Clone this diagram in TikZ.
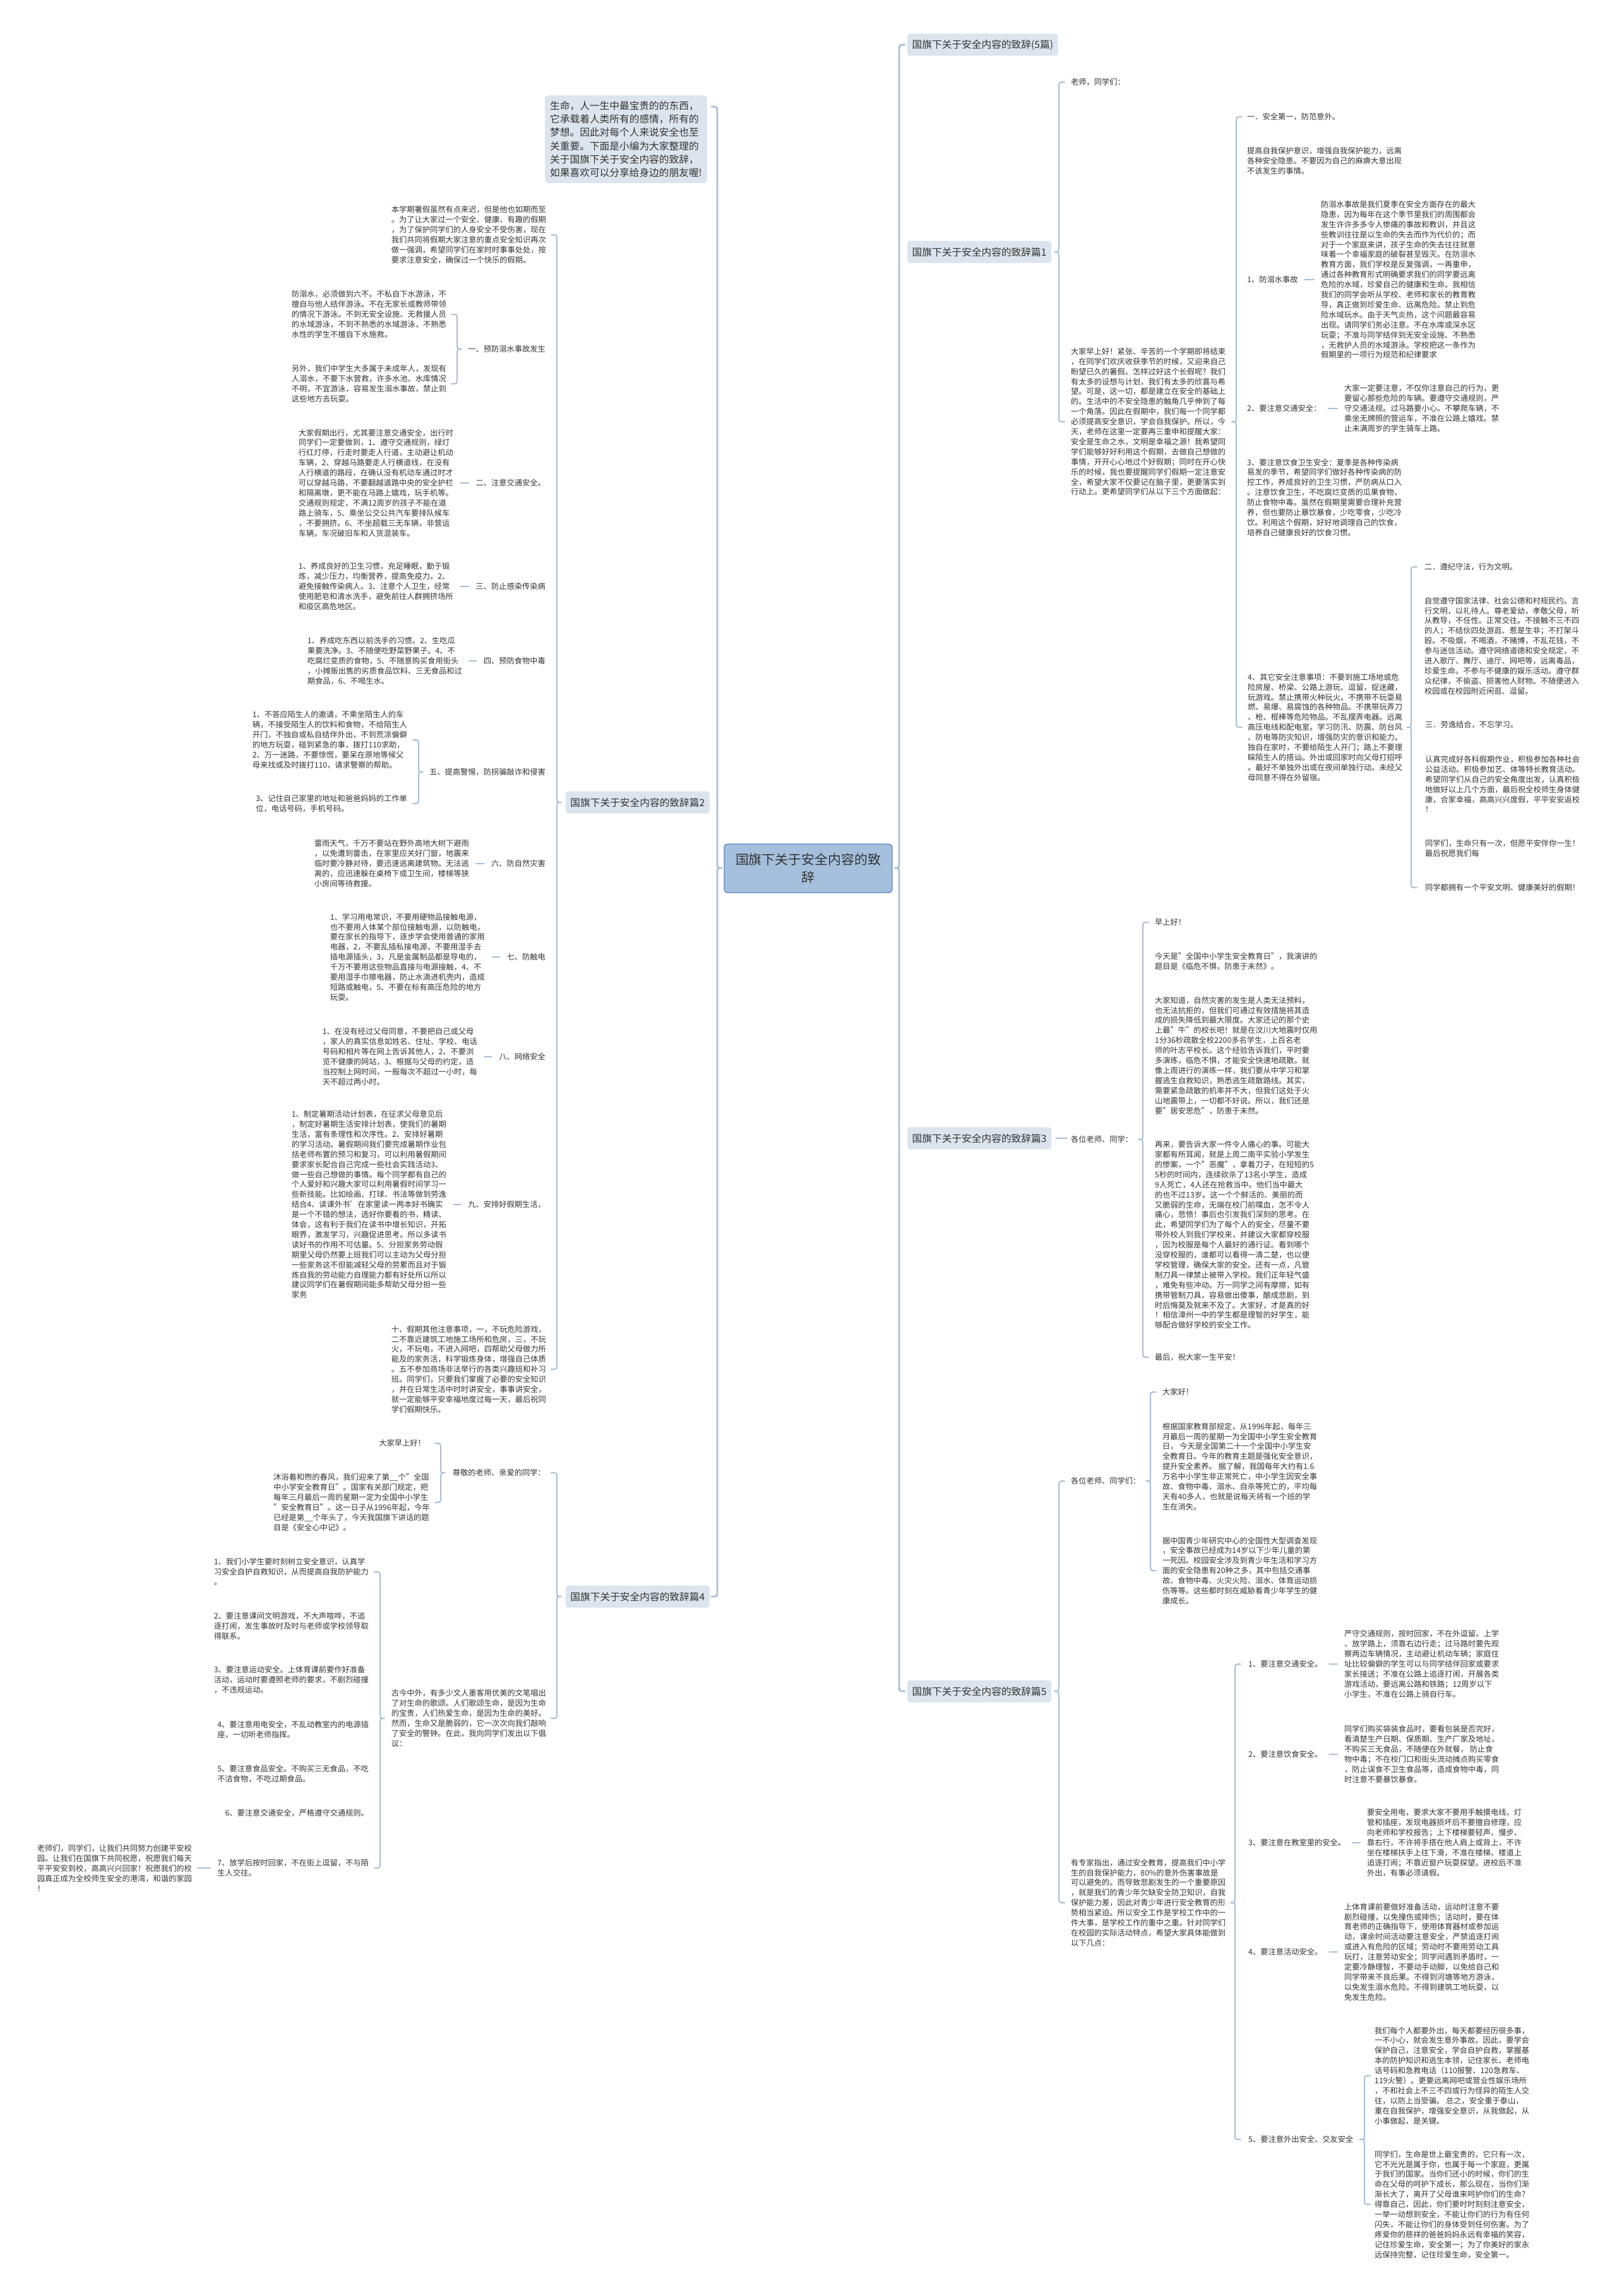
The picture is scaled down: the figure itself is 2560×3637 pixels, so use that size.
\documentclass[tikz,border=0pt]{standalone}
\usepackage{fontspec}
\setmainfont{Noto Sans CJK SC}
\definecolor{mmline}{HTML}{A9BFD6}
\definecolor{boxfill}{HTML}{DCE5ED}
\definecolor{cfill}{HTML}{A5C0DD}
\definecolor{cdraw}{HTML}{5A84BF}
\definecolor{txt}{HTML}{333333}
\tikzset{
  br/.style={draw=mmline, line width=2pt, line cap=round, line join=round},
  brmain/.style={br, line width=2.8pt},
  sc/.style={br, shorten <=11pt, shorten >=11pt},
  tr/.style={anchor=west, align=left, inner sep=0pt, text=txt, font=\fontsize{12.25}{15.9}\selectfont},
  tl/.style={tr, anchor=east},
  lbl/.style={fill=boxfill, rounded corners=4pt, inner xsep=7.5pt, inner ysep=0pt, minimum height=35pt, text=txt, font=\fontsize{15.7}{18}\selectfont},
  central/.style={fill=cfill, draw=cdraw, line width=1.3pt, rounded corners=5pt, align=center, minimum width=266pt, minimum height=77pt, inner sep=0pt, text=txt, font=\fontsize{20.9}{28}\selectfont},
  intro/.style={fill=boxfill, rounded corners=5pt, align=left, inner xsep=8pt, inner ysep=9pt, anchor=north west, text=txt, font=\fontsize{15.7}{21.2}\selectfont}
}
\newcommand{\mmBR}[5][br]{\draw[#1] ({#2+9},#3) .. controls (#2,#3) .. (#2,{#3+9}) -- (#2,{#4-9}) .. controls (#2,#4) .. ({#2-7},#4) .. controls (#2,#4) .. (#2,{#4+9}) -- (#2,{#5-9}) .. controls (#2,#5) .. ({#2+9},#5);}
\newcommand{\mmBL}[5][br]{\draw[#1] ({#2-9},#3) .. controls (#2,#3) .. (#2,{#3+9}) -- (#2,{#4-9}) .. controls (#2,#4) .. ({#2+7},#4) .. controls (#2,#4) .. (#2,{#4+9}) -- (#2,{#5-9}) .. controls (#2,#5) .. ({#2-9},#5);}
\begin{document}
\begin{tikzpicture}[x=1pt,y=-1pt]
\fill[white] (0,0) rectangle (2560,3637);
\path[use as bounding box] (0,0) rectangle (2560,3637);

% ---------------- central ----------------
\node[central] (c) at (1280,1375.5) {国旗下关于安全内容的致\\辞};
\mmBR[brmain]{1424}{71}{1375}{2679}
\mmBL[brmain]{1136}{169}{1375}{2529}

% ---------------- right branches ----------------
\node[lbl, anchor=west] (r0) at (1437,71) {国旗下关于安全内容的致辞(5篇)};
\node[lbl, anchor=west] (r1) at (1437,399) {国旗下关于安全内容的致辞篇1};
\node[lbl, anchor=west] (r3) at (1437,1803) {国旗下关于安全内容的致辞篇3};
\node[lbl, anchor=west] (r5) at (1437,2679) {国旗下关于安全内容的致辞篇5};

% ----- 篇1 -----
\mmBR{1677}{130}{399}{668}
\node[tr] (a1) at (1696,130) {老师，同学们：};
\node[tr] (a2) at (1696,668) {大家早上好！紧张、辛苦的一个学期即将结束\\
，在同学们欢庆收获季节的时候，又迎来自己\\
盼望已久的暑假。怎样过好这个长假呢？我们\\
有太多的设想与计划，我们有太多的欣喜与希\\
望。可是，这一切，都是建立在安全的基础上\\
的。生活中的不安全隐患的触角几乎伸到了每\\
一个角落。因此在假期中，我们每一个同学都\\
必须提高安全意识，学会自我保护。所以，今\\
天，老师在这里一定要再三重申和提醒大家：\\
安全是生命之水，文明是幸福之源！我希望同\\
学们能够好好利用这个假期，去做自己想做的\\
事情，开开心心地过个好假期；同时在开心快\\
乐的时候，我也要提醒同学们假期一定注意安\\
全，希望大家不仅要记在脑子里，更要落实到\\
行动上。更希望同学们从以下三个方面做起：};
\mmBR{1958}{185}{668}{1152}
\node[tr] (b1) at (1975,185) {一．安全第一，防范意外。};
\node[tr] (b2) at (1975,255) {提高自我保护意识，增强自我保护能力，远离\\
各种安全隐患。不要因为自己的麻痹大意出现\\
不该发生的事情。};
\node[tr] (b3) at (1975,443) {1、防溺水事故};
\node[tr] (b3p) at (2092,443) {防溺水事故是我们夏季在安全方面存在的最大\\
隐患，因为每年在这个季节里我们的周围都会\\
发生许许多多令人惨痛的事故和教训，并且这\\
些教训往往是以生命的失去而作为代价的；而\\
对于一个家庭来讲，孩子生命的失去往往就意\\
味着一个幸福家庭的破裂甚至毁灭。在防溺水\\
教育方面，我们学校是反复强调，一再重申，\\
通过各种教育形式明确要求我们的同学要远离\\
危险的水域，珍爱自己的健康和生命。我相信\\
我们的同学会听从学校、老师和家长的教育教\\
导，真正做到珍爱生命、远离危险。禁止到危\\
险水域玩水。由于天气炎热，这个问题最容易\\
出现。请同学们务必注意。不在水库或深水区\\
玩耍；不准与同学结伴到无安全设施、不熟悉\\
，无救护人员的水域游泳。学校把这一条作为\\
假期里的一项行为规范和纪律要求};
\draw[sc] (b3.east) -- (b3.east -| b3p.west);
\node[tr] (b4) at (1975,647) {2、要注意交通安全：};
\node[tr] (b4p) at (2129,647) {大家一定要注意，不仅你注意自己的行为，更\\
要留心那些危险的车辆。要遵守交通规则，严\\
守交通法规。过马路要小心。不攀爬车辆，不\\
乘坐无牌照的营运车，不准在公路上嬉戏。禁\\
止未满周岁的学生骑车上路。};
\draw[sc] (b4.east) -- (b4.east -| b4p.west);
\node[tr] (b5) at (1975,788) {3、要注意饮食卫生安全：夏季是各种传染病\\
易发的季节，希望同学们做好各种传染病的防\\
控工作，养成良好的卫生习惯，严防病从口入\\
。注意饮食卫生，不吃腐烂变质的瓜果食物，\\
防止食物中毒。虽然在假期里需要合理补充营\\
养，但也要防止暴饮暴食，少吃零食，少吃冷\\
饮。利用这个假期，好好地调理自己的饮食，\\
培养自己健康良好的饮食习惯。};
\node[tr] (b6) at (1976,1152) {4、其它安全注意事项：不要到施工场地或危\\
险房屋、桥梁、公路上游玩、逗留，捉迷藏，\\
玩游戏。禁止携带火种玩火。不携带不玩耍易\\
燃、易爆、易腐蚀的各种物品。不携带玩弄刀\\
、枪、棍棒等危险物品。不乱摆弄电器。远离\\
高压电线和配电室。学习防汛、防震、防台风\\
、防电等防灾知识，增强防灾的意识和能力。\\
独自在家时，不要给陌生人开门；路上不要理\\
睬陌生人的搭讪。外出或回家时向父母打招呼\\
。最好不单独外出或在夜间单独行动。未经父\\
母同意不得在外留宿。};
\mmBR{2235}{898}{1152}{1406}
\node[tr] (c1) at (2256,898) {二．遵纪守法，行为文明。};
\node[tr] (c2) at (2256,1023) {自觉遵守国家法律、社会公德和村规民约。言\\
行文明，以礼待人。尊老爱幼，孝敬父母，听\\
从教导，不任性。正常交往。不接触不三不四\\
的人；不结伙四处游逛、惹是生非；不打架斗\\
殴。不吸烟，不喝酒，不赌博，不乱花钱，不\\
参与迷信活动。遵守网络道德和安全规定，不\\
进入歌厅、舞厅、迪厅、网吧等，远离毒品，\\
珍爱生命。不参与不健康的娱乐活动。遵守群\\
众纪律，不偷盗、损害他人财物。不随便进入\\
校园或在校园附近闲逛、逗留。};
\node[tr] (c3) at (2257,1148) {三．劳逸结合，不忘学习。};
\node[tr] (c4) at (2257,1242) {认真完成好各科假期作业，积极参加各种社会\\
公益活动。积极参加艺、体等特长教育活动。\\
希望同学们从自己的安全角度出发，认真积极\\
地做好以上几个方面，最后祝全校师生身体健\\
康，合家幸福，高高兴兴度假，平平安安返校\\
！};
\node[tr] (c5) at (2257,1344) {同学们，生命只有一次，但愿平安伴你一生！\\
最后祝愿我们每};
\node[tr] (c6) at (2257,1406) {同学都拥有一个平安文明、健康美好的假期！};

% ----- 篇3 -----
\node[tr] (d1) at (1696,1805) {各位老师、同学：};
\draw[br, shorten <=7pt, shorten >=6pt] (r3.east) -- (r3.east -| d1.west);
\mmBR{1810}{1461}{1805}{2150}
\node[tr] (e1) at (1829,1461) {早上好！};
\node[tr] (e2) at (1829,1523) {今天是"全国中小学生安全教育日"，我演讲的\\
题目是《临危不惧，防患于未然》。};
\node[tr] (e3) at (1829,1672) {大家知道，自然灾害的发生是人类无法预料，\\
也无法抗拒的，但我们可通过有效措施将其造\\
成的损失降低到最大限度。大家还记的那个史\\
上最"牛"的校长吧！就是在汶川大地震时仅用\\
1分36秒疏散全校2200多名学生，上百名老\\
师的叶志平校长。这个经验告诉我们，平时要\\
多演练，临危不惧，才能安全快速地疏散。就\\
像上周进行的演练一样，我们要从中学习和掌\\
握逃生自救知识，熟悉逃生疏散路线。其实，\\
需要紧急疏散的机率并不大，但我们这处于火\\
山地震带上，一切都不好说。所以，我们还是\\
要"居安思危"，防患于未然。};
\node[tr] (e4) at (1829,1956) {再来，要告诉大家一件令人痛心的事。可能大\\
家都有所耳闻，就是上周二南平实验小学发生\\
的惨案，一个"恶魔"，拿着刀子，在短短的5\\
5秒的时间内，连续砍杀了13名小学生，造成\\
9人死亡，4人还在抢救当中。他们当中最大\\
的也不过13岁。这一个个鲜活的、美丽的而\\
又脆弱的生命，无端在校门前喋血，怎不令人\\
痛心，悲愤！事后也引发我们深刻的思考。在\\
此，希望同学们为了每个人的安全，尽量不要\\
带外校人到我们学校来，并建议大家都穿校服\\
，因为校服是每个人最好的通行证。看到哪个\\
没穿校服的，谁都可以看得一清二楚，也以便\\
学校管理，确保大家的安全。还有一点，凡管\\
制刀具一律禁止被带入学校。我们正年轻气盛\\
，难免有些冲动。万一同学之间有摩擦，如有\\
携带管制刀具，容易做出傻事，酿成悲剧，到\\
时后悔莫及就来不及了。大家好，才是真的好\\
！相信漳州一中的学生都是理智的好学生，能\\
够配合做好学校的安全工作。};
\node[tr] (e5) at (1829,2150) {最后，祝大家一生平安！};

% ----- 篇5 -----
\mmBR{1677}{2346}{2679}{3014}
\node[tr] (f1) at (1696,2346) {各位老师、同学们：};
\mmBR{1822}{2205}{2346}{2488}
\node[tr] (g1) at (1841,2205) {大家好！};
\node[tr] (g2) at (1841,2323) {根据国家教育部规定，从1996年起，每年三\\
月最后一周的星期一为全国中小学生安全教育\\
日， 今天是全国第二十一个全国中小学生安\\
全教育日。今年的教育主题是强化安全意识，\\
提升安全素养。 据了解，我国每年大约有1.6\\
万名中小学生非正常死亡，中小学生因安全事\\
故、食物中毒、溺水、自杀等死亡的，平均每\\
天有40多人，也就是说每天将有一个班的学\\
生在消失。};
\node[tr] (g3) at (1841,2488) {据中国青少年研究中心的全国性大型调查发现\\
，安全事故已经成为14岁以下少年儿童的第\\
一死因。校园安全涉及到青少年生活和学习方\\
面的安全隐患有20种之多，其中包括交通事\\
故、食物中毒、火灾火险、溺水、体育运动损\\
伤等等。这些都时刻在威胁着青少年学生的健\\
康成长。};
\node[tr] (f2) at (1696,3014) {有专家指出，通过安全教育，提高我们中小学\\
生的自我保护能力，80\%的意外伤害事故是\\
可以避免的。而导致悲剧发生的一个重要原因\\
，就是我们的青少年欠缺安全防卫知识，自我\\
保护能力差，因此对青少年进行安全教育的形\\
势相当紧迫。所以安全工作是学校工作中的一\\
件大事，是学校工作的重中之重。针对同学们\\
在校园的实际活动特点，希望大家具体能做到\\
以下几点：};
\mmBR{1956}{2636}{3014}{3389}
\node[tr] (h1) at (1977,2636) {1、要注意交通安全。};
\node[tr] (h1p) at (2129,2636) {严守交通规则，按时回家，不在外逗留。上学\\
、放学路上，须靠右边行走；过马路时要先观\\
察两边车辆情况，主动避让机动车辆；家庭住\\
址比较偏僻的学生可以与同学结伴回家或要求\\
家长接送；不准在公路上追逐打闹，开展各类\\
游戏活动，要远离公路和铁路；12周岁以下\\
小学生，不准在公路上骑自行车。};
\draw[sc] (h1.east) -- (h1.east -| h1p.west);
\node[tr] (h2) at (1977,2779) {2、要注意饮食安全。};
\node[tr] (h2p) at (2129,2779) {同学们购买袋装食品时，要看包装是否完好，\\
看清楚生产日期、保质期、生产厂家及地址，\\
不购买三无食品，不随便在外就餐， 防止食\\
物中毒；不在校门口和街头流动摊点购买零食\\
，防止误食不卫生食品等，造成食物中毒，同\\
时注意不要暴饮暴食。};
\draw[sc] (h2.east) -- (h2.east -| h2p.west);
\node[tr] (h3) at (1977,2919) {3、要注意在教室里的安全。};
\node[tr] (h3p) at (2165,2919) {要安全用电，要求大家不要用手触摸电线、灯\\
管和插座，发现电器损坏后不要擅自修理，应\\
向老师和学校报告；上下楼梯要轻声、慢步、\\
靠右行，不许将手搭在他人肩上或背上，不许\\
坐在楼梯扶手上往下滑，不准在楼梯、楼道上\\
追逐打闹；不靠近窗户玩耍探望。进校后不准\\
外出，有事必须请假。};
\draw[sc] (h3.east) -- (h3.east -| h3p.west);
\node[tr] (h4) at (1977,3092) {4、要注意活动安全。};
\node[tr] (h4p) at (2129,3092) {上体育课前要做好准备活动，运动时注意不要\\
剧烈碰撞，以免撞伤或摔伤；活动时，要在体\\
育老师的正确指导下，使用体育器材或参加运\\
动，课余时间活动要注意安全，严禁追逐打闹\\
或进入有危险的区域；劳动时不要用劳动工具\\
玩打，注意劳动安全；同学间遇到矛盾时，一\\
定要冷静理智，不要动手动脚，以免给自己和\\
同学带来不良后果。不得到河塘等地方游泳，\\
以免发生溺水危险。不得到建筑工地玩耍，以\\
免发生危险。};
\draw[sc] (h4.east) -- (h4.east -| h4p.west);
\node[tr] (h5) at (1977,3389) {5、要注意外出安全、交友安全};
\mmBR{2161}{3288}{3389}{3492}
\node[tr] (i1) at (2177,3288) {我们每个人都要外出，每天都要经历很多事，\\
一不小心，就会发生意外事故。因此，要学会\\
保护自己，注意安全，学会自护自救，掌握基\\
本的防护知识和逃生本领，记住家长、老师电\\
话号码和急救电话（110报警、120急救车、\\
119火警）。更要远离网吧或营业性娱乐场所\\
，不和社会上不三不四或行为怪异的陌生人交\\
往，以防上当受骗。 总之，安全重于泰山，\\
重在自我保护，增强安全意识，从我做起，从\\
小事做起，是关键。};
\node[tr] (i2) at (2177,3492) {同学们，生命是世上最宝贵的，它只有一次，\\
它不光光是属于你，也属于每一个家庭，更属\\
于我们的国家。当你们还小的时候，你们的生\\
命在父母的呵护下成长，那么现在，当你们渐\\
渐长大了，离开了父母谁来呵护你们的生命？\\
得靠自己，因此，你们要时时刻刻注意安全，\\
一举一动想到安全，不能让你们的行为有任何\\
闪失，不能让你们的身体受到任何伤害。为了\\
疼爱你的慈祥的爸爸妈妈永远有幸福的笑容，\\
记住珍爱生命，安全第一；为了你美好的家永\\
远保持完整，记住珍爱生命，安全第一。};

% ---------------- left side ----------------
\node[intro] (intro) at (863,151) {生命，人一生中最宝贵的的东西，\\
它承载着人类所有的感情，所有的\\
梦想。因此对每个人来说安全也至\\
关重要。下面是小编为大家整理的\\
关于国旗下关于安全内容的致辞，\\
如果喜欢可以分享给身边的朋友喔!};
\node[lbl, anchor=east] (l2) at (1124,1271) {国旗下关于安全内容的致辞篇2};
\node[lbl, anchor=east] (l4) at (1124,2529) {国旗下关于安全内容的致辞篇4};

% ----- 篇2 -----
\mmBL{882}{372}{1271}{2169}
\node[tl] (j1) at (865,372) {本学期署假虽然有点来迟，但是他也如期而至\\
。为了让大家过一个安全、健康、有趣的假期\\
，为了保护同学们的人身安全不受伤害，现在\\
我们共同将假期大家注意的重点安全知识再次\\
做一强调，希望同学们在家时时事事处处，按\\
要求注意安全，确保过一个快乐的假期。};
\node[tl] (j2) at (864,553) {一、预防溺水事故发生};
\mmBL{724}{498}{553}{608}
\node[tl] (k1) at (707,498) {防溺水，必须做到六不。不私自下水游泳，不\\
擅自与他人结伴游泳。不在无家长或教师带领\\
的情况下游泳。不到无安全设施、无救援人员\\
的水域游泳，不到不熟悉的水域游泳，不熟悉\\
水性的学生不擅自下水施救。};
\node[tl] (k2) at (707,608) {另外，我们中学生大多属于未成年人，发现有\\
人溺水，不要下水营救，许多水池、水库情况\\
不明，不宜游泳，容易发生溺水事故，禁止到\\
这些地方去玩耍。};
\node[tl] (j3) at (864,765) {二、注意交通安全。};
\node[tl] (j3p) at (718,765) {大家假期出行，尤其要注意交通安全，出行时\\
同学们一定要做到，1、遵守交通规则，绿灯\\
行红灯停，行走时要走人行道，主动避让机动\\
车辆，2、穿越马路要走人行横道线，在没有\\
人行横道的路段，在确认没有机动车通过时才\\
可以穿越马路，不要翻越道路中央的安全护栏\\
和隔离墩，更不能在马路上嬉戏，玩手机等。\\
交通规则规定，不满12周岁的孩子不能在道\\
路上骑车，5、乘坐公交公共汽车要排队候车\\
，不要拥挤。6、不坐超载三无车辆，非营运\\
车辆，车况破旧车和人货混装车。};
\draw[sc] (j3.west) -- (j3.west -| j3p.east);
\node[tl] (j4) at (864,929) {三、防止感染传染病};
\node[tl] (j4p) at (718,929) {1、养成良好的卫生习惯，充足睡眠，勤于锻\\
炼，减少压力，均衡营养，提高免疫力。2、\\
避免接触传染病人。3、注意个人卫生，经常\\
使用肥皂和清水洗手，避免前往人群拥挤场所\\
和疫区高危地区。};
\draw[sc] (j4.west) -- (j4.west -| j4p.east);
\node[tl] (j5) at (864,1047) {四、预防食物中毒};
\node[tl] (j5p) at (732,1047) {1、养成吃东西以前洗手的习惯。2、生吃瓜\\
果要洗净。3、不随便吃野菜野果子。4、不\\
吃腐烂变质的食物，5、不随意购买食用街头\\
，小摊贩出售的劣质食品饮料、三无食品和过\\
期食品，6、不喝生水。};
\draw[sc] (j5.west) -- (j5.west -| j5p.east);
\node[tl] (j6) at (864,1223) {五、提高警惕，防拐骗敲诈和侵害};
\mmBL{663}{1172}{1223}{1273}
\node[tl] (l1) at (645,1172) {1、不答应陌生人的邀请，不乘坐陌生人的车\\
辆，不接受陌生人的饮料和食物，不给陌生人\\
开门，不独自或私自结伴外出，不到荒凉偏僻\\
的地方玩耍，碰到紧急的事，拨打110求助，\\
2、万一迷路，不要惊慌，要呆在原地等候父\\
母来找或及时拨打110，请求警察的帮助。};
\node[tl] (l2b) at (645,1273) {3、记住自己家里的地址和爸爸妈妈的工作单\\
位，电话号码，手机号码。};
\node[tl] (j7) at (864,1368) {六、防自然灾害};
\node[tl] (j7p) at (743,1368) {雷雨天气，千万不要站在野外高地大树下避雨\\
，以免遭到雷击，在家里应关好门窗，地震来\\
临时要冷静对待，要迅速逃离建筑物。无法逃\\
离的，应迅速躲在桌椅下或卫生间，楼梯等狭\\
小房间等待救援。};
\draw[sc] (j7.west) -- (j7.west -| j7p.east);
\node[tl] (j8) at (864,1516) {七、防触电};
\node[tl] (j8p) at (768,1516) {1、学习用电常识，不要用硬物品接触电源，\\
也不要用人体某个部位接触电源，以防触电，\\
要在家长的指导下，逐步学会使用普通的家用\\
电器，2，不要乱插私接电源，不要用湿手去\\
插电源插头，3，凡是金属制品都是导电的，\\
千万不要用这些物品直接与电源接触，4、不\\
要用湿手巾擦电器，防止水滴进机壳内，造成\\
短路或触电，5、不要在标有高压危险的地方\\
玩耍。};
\draw[sc] (j8.west) -- (j8.west -| j8p.east);
\node[tl] (j9) at (864,1674) {八、网络安全};
\node[tl] (j9p) at (756,1674) {1、在没有经过父母同意，不要把自己或父母\\
，家人的真实信息如姓名、住址、学校、电话\\
号码和相片等在网上告诉其他人，2、不要浏\\
览不健康的网站，3、根据与父母的约定，适\\
当控制上网时间，一般每次不超过一小时，每\\
天不超过两小时。};
\draw[sc] (j9.west) -- (j9.west -| j9p.east);
\node[tl] (j10) at (864,1908) {九、安排好假期生活，};
\node[tl] (j10p) at (707,1908) {1、制定暑期活动计划表，在征求父母意见后\\
，制定好暑期生活安排计划表，使我们的暑期\\
生活，富有条理性和次序性。2、安排好暑期\\
的学习活动。暑假期间我们要完成暑期作业包\\
括老师布置的预习和复习，可以利用暑假期间\\
要求家长配合自己完成一些社会实践活动3、\\
做一些自己想做的事情。每个同学都有自己的\\
个人爱好和兴趣大家可以利用暑假时间学习一\\
些新技能。比如绘画、打球、书法等做到劳逸\\
结合4、读课外书'在家里读一两本好书确实\\
是一个不错的想法，选好你要看的书，精读、\\
体会，这有利于我们在读书中增长知识，开拓\\
眼界，激发学习，兴趣促进思考。所以多读书\\
读好书的作用不可估量。5、分担家务劳动假\\
期里父母仍然要上班我们可以主动为父母分担\\
一些家务这不但能减轻父母的劳累而且对于锻\\
炼自我的劳动能力自理能力都有好处所以所以\\
建议同学们在暑假期间能多帮助父母分担一些\\
家务};
\draw[sc] (j10.west) -- (j10.west -| j10p.east);
\node[tl] (j11) at (865,2169) {十、假期其他注意事项，一，不玩危险游戏，\\
二不靠近建筑工地施工场所和危房，三，不玩\\
火，不玩电，不进入网吧，四帮助父母做力所\\
能及的家务活，科学锻炼身体，增强自己体质\\
。五不参加商场非法举行的各类兴趣班和补习\\
班。同学们，只要我们掌握了必要的安全知识\\
，并在日常生活中时时讲安全，事事讲安全，\\
就一定能够平安幸福地度过每一天，最后祝同\\
学们假期快乐。};

% ----- 篇4 -----
\mmBL{882}{2333}{2529}{2722}
\node[tl] (m1) at (864,2333) {尊敬的老师、亲爱的同学：};
\mmBL{698}{2286}{2333}{2380}
\node[tl] (n1) at (674,2286) {大家早上好！};
\node[tl] (n2) at (681,2380) {沐浴着和煦的春风，我们迎来了第\_\_个"全国\\
中小学安全教育日"。国家有关部门规定，把\\
每年三月最后一周的星期一定为全国中小学生\\
"安全教育日"。这一日子从1996年起，今年\\
已经是第\_\_个年头了，今天我国旗下讲话的题\\
目是《安全心中记》。};
\node[tl] (m2) at (865,2722) {古今中外，有多少文人墨客用优美的文笔唱出\\
了对生命的歌颂。人们歌颂生命，是因为生命\\
的宝贵，人们热爱生命，是因为生命的美好。\\
然而，生命又是脆弱的，它一次次向我们敲响\\
了安全的警钟。在此，我向同学们发出以下倡\\
议：};
\mmBL{602}{2490}{2722}{2959}
\node[tl] (o1) at (584,2490) {1、我们小学生要时刻树立安全意识，认真学\\
习安全自护自救知识，从而提高自我防护能力\\
。};
\node[tl] (o2) at (584,2576) {2、要注意课间文明游戏，不大声喧哗，不追\\
逐打闹，发生事故时及时与老师或学校领导取\\
得联系。};
\node[tl] (o3) at (584,2661) {3、要注意运动安全。上体育课前要作好准备\\
活动，运动时要遵照老师的要求，不剧烈碰撞\\
，不违规运动。};
\node[tl] (o4) at (584,2740) {4、要注意用电安全，不乱动教室内的电源插\\
座，一切听老师指挥。};
\node[tl] (o5) at (584,2810) {5、要注意食品安全。不购买三无食品，不吃\\
不洁食物，不吃过期食品。};
\node[tl] (o6) at (584,2872) {6、要注意交通安全，严格遵守交通规则。};
\node[tl] (o7) at (584,2959) {7、放学后按时回家，不在街上逗留，不与陌\\
生人交往。};
\node[tl] (p1) at (304,2959) {老师们，同学们，让我们共同努力创建平安校\\
园。让我们在国旗下共同祝愿，祝愿我们每天\\
平平安安到校，高高兴兴回家！祝愿我们的校\\
园真正成为全校师生安全的港湾，和谐的家园\\
！};
\draw[br, shorten <=11pt, shorten >=9pt] (o7.west) -- (o7.west -| p1.east);
\end{tikzpicture}
\end{document}
